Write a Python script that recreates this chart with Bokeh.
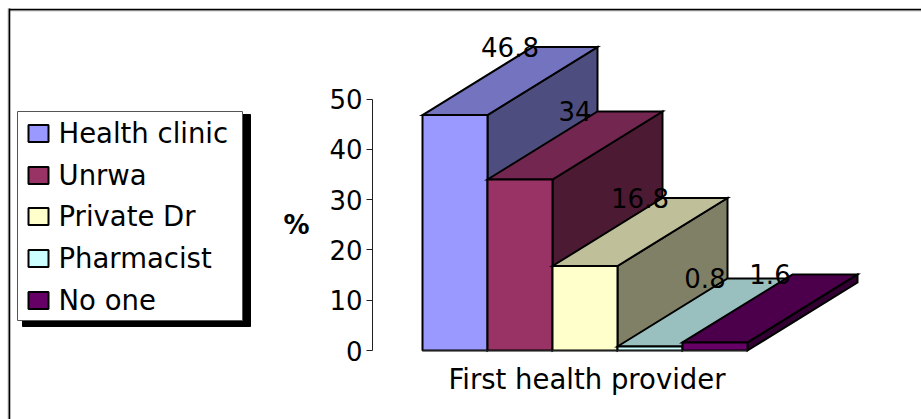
from bokeh.core.properties import value
from bokeh.embed import file_html
from bokeh.models import FixedTicker, Range1d
from bokeh.plotting import figure
from bokeh.resources import INLINE

# Survey results: first health provider consulted (%)
providers = ["Health clinic", "Unrwa", "Private Dr", "Pharmacist", "No one"]
percent = [46.8, 34, 16.8, 0.8, 1.6]
percent_labels = ["46.8", "34", "16.8", "0.8", "1.6"]
category = "First health provider"
y_ticks = [0, 10, 20, 30, 40, 50]

front_colors = ["#9999FF", "#993366", "#FFFFCC", "#CCFFFF", "#660066"]
top_colors = ["#7373BF", "#732650", "#BFBF99", "#99BFBF", "#4C004C"]
side_colors = ["#4D4D80", "#4D1A33", "#808066", "#668080", "#330033"]

# Pixel layout of the oblique projection
WIDTH, HEIGHT = 921, 419
BASE_PX = 350
PX_PER_UNIT = 5.03
BAR_LEFT = 422
BAR_W = 65
DEPTH_X = 110
DEPTH_V = 68 / PX_PER_UNIT

FONT = "DejaVu Sans"
NUMBER_SIZE = "26px"
TEXT_SIZE = "27.5px"

p = figure(
    width=WIDTH, height=HEIGHT,
    x_range=Range1d(0, WIDTH),
    y_range=Range1d(-(HEIGHT - BASE_PX) / PX_PER_UNIT, BASE_PX / PX_PER_UNIT),
    output_backend="svg", toolbar_location=None,
    min_border=0, outline_line_color=None,
    background_fill_color="white", border_fill_color="white",
)
p.extra_y_ranges["px"] = Range1d(HEIGHT, 0)
p.grid.visible = False

# Value axis
yax = p.yaxis[0]
yax.fixed_location = 372
yax.bounds = (0, 50)
yax.ticker = FixedTicker(ticks=y_ticks)
yax.major_tick_out = 6
yax.major_tick_in = 0
yax.minor_tick_out = 0
yax.minor_tick_in = 0
yax.axis_line_color = "#202020"
yax.major_tick_line_color = "#202020"
yax.major_label_standoff = 4
yax.major_label_text_font = FONT
yax.major_label_text_font_size = NUMBER_SIZE
yax.major_label_text_color = "black"

# Category axis under the bars
CATEGORY_X = BAR_LEFT + BAR_W * len(percent) / 2 + 2
xax = p.xaxis[0]
xax.fixed_location = 0
xax.bounds = (BAR_LEFT, BAR_LEFT + BAR_W * len(percent))
xax.ticker = FixedTicker(ticks=[CATEGORY_X])
xax.major_label_overrides = {CATEGORY_X: category}
xax.major_tick_out = 0
xax.major_tick_in = 0
xax.minor_tick_out = 0
xax.minor_tick_in = 0
xax.axis_line_color = "#202020"
xax.major_label_standoff = 12
xax.major_label_text_font = FONT
xax.major_label_text_font_size = TEXT_SIZE
xax.major_label_text_color = "black"

# Chart area border: only the top and left edges, with a grey shade drawn first
p.line([9, WIDTH], [10.25, 10.25], y_range_name="px", line_color="#999999", line_width=1)
p.line([7.75, 7.75], [8, HEIGHT], y_range_name="px", line_color="#999999", line_width=1)
p.line([9, WIDTH], [9, 9], y_range_name="px", line_color="black", line_width=1.6)
p.line([9, 9], [8, HEIGHT], y_range_name="px", line_color="black", line_width=1.6)

# Bars, left to right so each one covers the side of the previous bar
for i, v in enumerate(percent):
    l = BAR_LEFT + i * BAR_W
    r = l + BAR_W
    p.patch([r, r + DEPTH_X, r + DEPTH_X, r], [0, DEPTH_V, v + DEPTH_V, v],
            fill_color=side_colors[i], line_color="black", line_width=2, line_join="miter")
    p.patch([l, l + DEPTH_X, r + DEPTH_X, r], [v, v + DEPTH_V, v + DEPTH_V, v],
            fill_color=top_colors[i], line_color="black", line_width=2, line_join="miter")
    p.quad(left=[l], right=[r], bottom=[0], top=[v],
           fill_color=front_colors[i], line_color="black", line_width=2)

# Value labels sit at the rear edge of each bar top
p.text(
    x=[BAR_LEFT + i * BAR_W + BAR_W / 2 + DEPTH_X / 2 for i in range(len(percent))],
    y=[v + DEPTH_V for v in percent],
    text=percent_labels,
    text_font=value(FONT), text_font_size=NUMBER_SIZE, text_color="black",
    text_align="center", text_baseline="middle",
)

# Axis title
p.text(x=[296], y=[224], text=["%"], y_range_name="px",
       text_font=value(FONT), text_font_size="26px", text_font_style="bold",
       text_color="black", text_align="center", text_baseline="middle")

# Legend with its drop shadow
p.quad(left=[22], right=[250], top=[114], bottom=[326], y_range_name="px",
       fill_color="black", line_color="black", line_width=1)
p.quad(left=[17], right=[242], top=[111], bottom=[320], y_range_name="px",
       fill_color="white", line_color="#555555", line_width=1)
legend_rows = [132, 174, 215, 257, 299]
p.quad(left=[28] * 5, right=[48] * 5,
       top=[y - 7.5 for y in legend_rows], bottom=[y + 9.5 for y in legend_rows],
       y_range_name="px", fill_color=front_colors, line_color="black", line_width=2)
p.text(x=[58] * 5, y=legend_rows, text=providers, y_range_name="px",
       text_font=value(FONT), text_font_size=TEXT_SIZE, text_color="black",
       text_align="left", text_baseline="middle")

open("out.html", "w").write(file_html(p, INLINE))
